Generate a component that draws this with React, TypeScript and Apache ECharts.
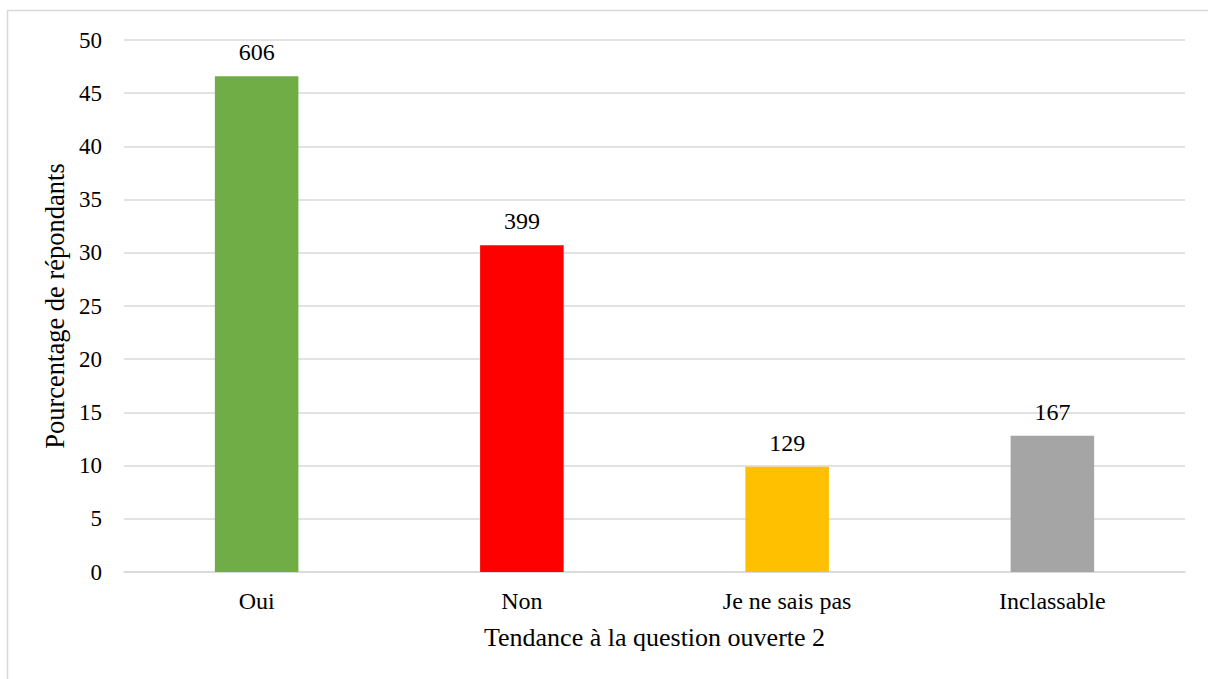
import React, { useEffect, useRef } from "react";
import * as echarts from "echarts";

const categories = ["Oui", "Non", "Je ne sais pas", "Inclassable"];
const percentages = [46.6, 30.7, 9.9, 12.8];
const counts = [606, 399, 129, 167];
const barColors = ["#70ad47", "#ff0000", "#ffc000", "#a5a5a5"];
const yTicks = { min: 0, max: 50, interval: 5 };
const xAxisTitle = "Tendance à la question ouverte 2";
const yAxisTitle = "Pourcentage de répondants";

const FONT = "Liberation Serif";

export default function App() {
  const ref = useRef<HTMLDivElement>(null);
  useEffect(() => {
    if (!ref.current) return;
    const chart = echarts.init(ref.current, undefined, { renderer: "svg" });
    chart.setOption({
      animation: false,
      backgroundColor: "#ffffff",
      textStyle: { fontFamily: FONT },
      graphic: [
        {
          type: "rect",
          shape: { x: 7.5, y: 10.5, width: 1220, height: 700 },
          style: { fill: "none", stroke: "#d9d9d9", lineWidth: 1.5 },
          silent: true,
        },
      ],
      grid: { left: 124, right: 23, top: 40, bottom: 107 },
      xAxis: {
        type: "category",
        data: categories,
        axisLine: { show: true, lineStyle: { color: "#d9d9d9", width: 1.5 } },
        axisTick: { show: false },
        axisLabel: { color: "#000", fontSize: 24, fontFamily: FONT, margin: 17 },
        name: xAxisTitle,
        nameLocation: "middle",
        nameGap: 52,
        nameTextStyle: { color: "#000", fontSize: 26, fontFamily: FONT },
      },
      yAxis: {
        type: "value",
        min: yTicks.min,
        max: yTicks.max,
        interval: yTicks.interval,
        axisLine: { show: false },
        axisTick: { show: false },
        splitLine: { lineStyle: { color: "#d9d9d9", width: 1.5 } },
        axisLabel: { color: "#000", fontSize: 23, fontFamily: FONT, margin: 22 },
        name: yAxisTitle,
        nameLocation: "middle",
        nameGap: 55,
        nameTextStyle: { color: "#000", fontSize: 26.5, fontFamily: FONT },
      },
      series: [
        {
          type: "bar",
          barWidth: "31.5%",
          data: percentages.map((v, i) => ({
            value: v,
            itemStyle: { color: barColors[i] },
          })),
          label: {
            show: true,
            position: "top",
            distance: 12,
            color: "#000",
            fontSize: 24,
            fontFamily: FONT,
            formatter: (p: any) => String(counts[p.dataIndex]),
          },
        },
      ],
    });
    return () => chart.dispose();
  }, []);
  return (
    <div
      ref={ref}
      style={{ position: "absolute", left: 0, top: 0, width: 1208, height: 679 }}
    />
  );
}
